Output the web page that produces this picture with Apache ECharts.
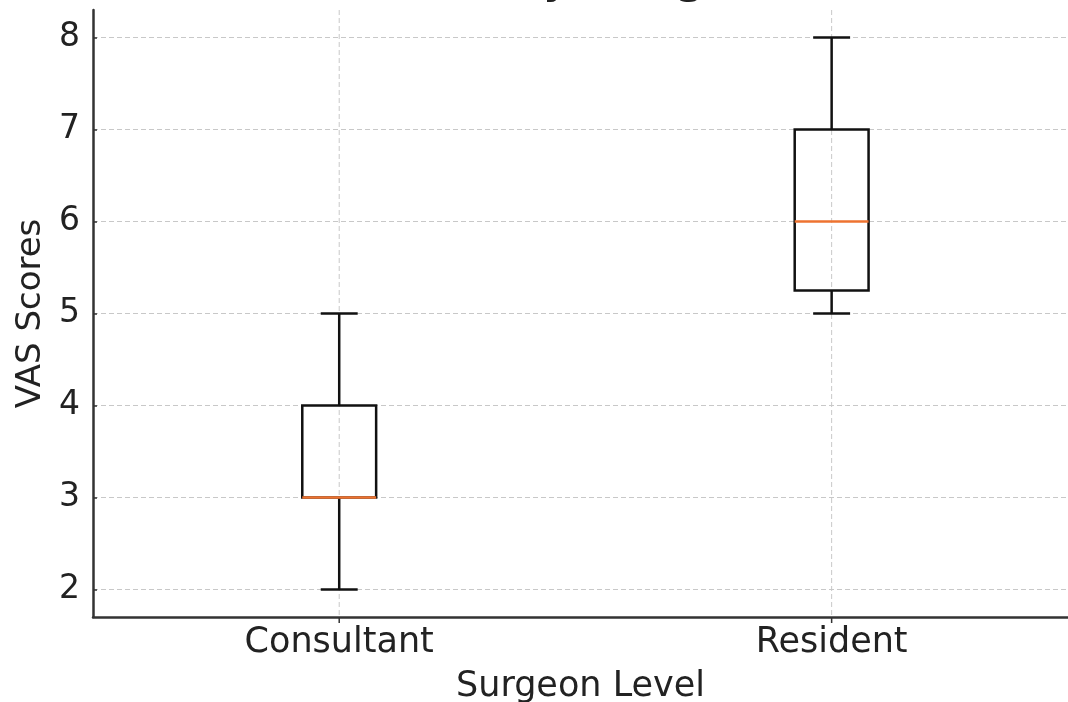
<!DOCTYPE html>
<html>
<head>
<meta charset="utf-8">
<script src="https://cdn.jsdelivr.net/npm/echarts@6/dist/echarts.min.js"></script>
<style>
  html, body { margin: 0; padding: 0; background: #fff; }
  #chart { width: 1068px; height: 702px; }
</style>
</head>
<body>
<div id="chart"></div>
<script>
// box plot stats per surgeon level (x positions 1, 2 like matplotlib)
const categories = ['Consultant', 'Resident'];
const whiskerLow = [2, 5];
const q1 = [3, 5.25];
const median = [3, 6];
const q3 = [4, 7];
const whiskerHigh = [5, 8];

const FONT = 'DejaVu Sans';
const chart = echarts.init(document.getElementById('chart'));

function renderBox (params, api) {
  const x = api.value(0);
  const unit = api.size([1, 0])[0];
  const bw = unit * 0.15;
  const cw = unit * 0.075;
  const p = k => api.coord([x, api.value(k)]);
  const lo = p(1), b1 = p(2), md = p(3), b3 = p(4), hi = p(5);
  const cx = lo[0];
  const cs = params.coordSys;
  const st = { stroke: '#111', lineWidth: 2.5, fill: null };
  return {
    type: 'group',
    children: [
      // vertical grid line + x tick at the category
      { type: 'line', shape: { x1: cx, y1: cs.y, x2: cx, y2: cs.y + cs.height }, style: { stroke: '#c8c8c8', lineWidth: 1, lineDash: [5, 3] }, z2: -1 },
      { type: 'line', shape: { x1: cx, y1: cs.y + cs.height, x2: cx, y2: cs.y + cs.height + 6 }, style: { stroke: '#333', lineWidth: 1.5 } },
      { type: 'line', shape: { x1: cx, y1: lo[1], x2: cx, y2: b1[1] }, style: st },
      { type: 'line', shape: { x1: cx, y1: b3[1], x2: cx, y2: hi[1] }, style: st },
      { type: 'line', shape: { x1: cx - cw / 2, y1: lo[1], x2: cx + cw / 2, y2: lo[1] }, style: st },
      { type: 'line', shape: { x1: cx - cw / 2, y1: hi[1], x2: cx + cw / 2, y2: hi[1] }, style: st },
      { type: 'rect', shape: { x: cx - bw / 2, y: b3[1], width: bw, height: b1[1] - b3[1] }, style: st },
      { type: 'line', shape: { x1: cx - bw / 2, y1: md[1], x2: cx + bw / 2, y2: md[1] }, style: { stroke: '#ee7330', lineWidth: 2.5 } }
    ]
  };
}

chart.setOption({
  animation: false,
  backgroundColor: '#fff',
  graphic: [{
    type: 'text',
    x: 581,
    y: -22,
    style: {
      text: 'VAS Scores by Surgeon Level',
      font: '51px "DejaVu Sans"',
      fill: '#222',
      textAlign: 'center',
      textVerticalAlign: 'middle'
    }
  }],
  grid: { left: 93, top: 10, bottom: 85, right: 0, outerBoundsMode: 'none' },
  xAxis: {
    type: 'value',
    min: 0.5,
    max: 2.48, // axes run past the right edge of the picture
    interval: 0.5,
    name: 'Surgeon Level',
    nameLocation: 'middle',
    nameGap: 52,
    nameTextStyle: { fontFamily: FONT, fontSize: 35, color: '#222' },
    axisLine: { show: true, lineStyle: { color: '#333', width: 2.5 } },
    axisTick: { show: false },
    axisLabel: {
      fontFamily: FONT, fontSize: 35, color: '#222', margin: 8,
      formatter: v => (Number.isInteger(v) && categories[v - 1]) || ''
    },
    splitLine: { show: false }
  },
  yAxis: {
    type: 'value',
    min: 1.7,
    max: 8.3,
    name: 'VAS Scores',
    nameLocation: 'middle',
    nameGap: 44,
    nameTextStyle: { fontFamily: FONT, fontSize: 34, color: '#222' },
    axisLine: { show: true, lineStyle: { color: '#333', width: 2.5 } },
    axisTick: { show: true, inside: true, length: 4, lineStyle: { color: '#333', width: 1.5 } },
    axisLabel: { fontFamily: FONT, fontSize: 33, color: '#222', margin: 13, showMinLabel: false, showMaxLabel: false },
    splitLine: { show: true, showMinLine: false, showMaxLine: false, lineStyle: { color: '#c8c8c8', type: [5, 3], width: 1 } }
  },
  series: [{
    type: 'custom',
    renderItem: renderBox,
    clip: false,
    encode: { x: 0, y: [1, 2, 3, 4, 5] },
    data: categories.map((c, i) => [i + 1, whiskerLow[i], q1[i], median[i], q3[i], whiskerHigh[i]]),
    z: 5
  }]
});
</script>
</body>
</html>
